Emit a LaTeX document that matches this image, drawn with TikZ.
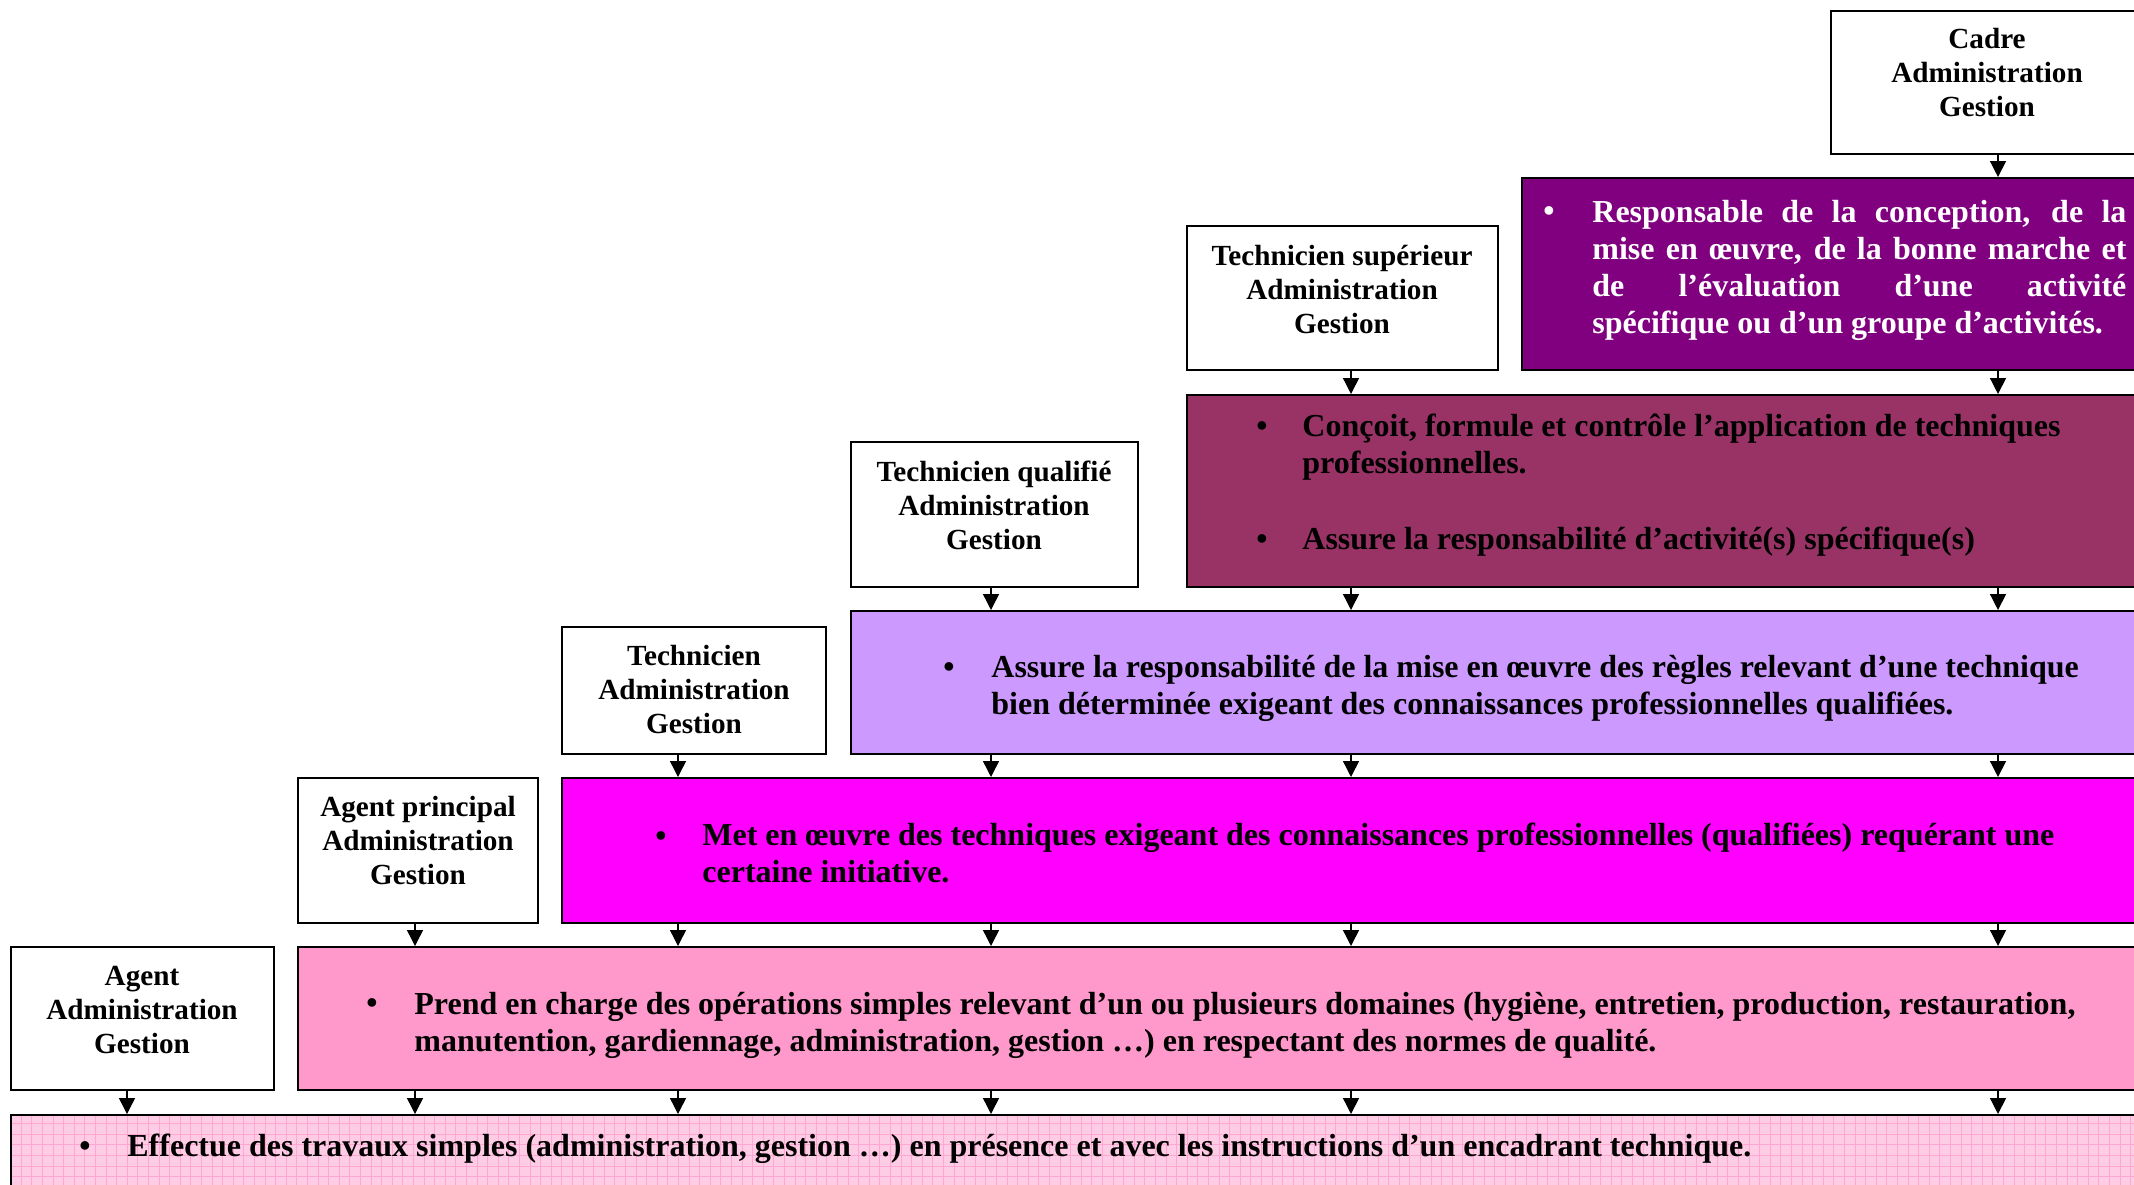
\documentclass[tikz,border=0pt]{standalone}
\usepackage{fontspec}
\setmainfont{Liberation Serif}
\usetikzlibrary{fit,arrows.meta}
\definecolor{cPurple}{HTML}{800080}
\definecolor{cRose}{HTML}{993366}
\definecolor{cLav}{HTML}{CC99FF}
\definecolor{cMag}{HTML}{FF00FF}
\definecolor{cPink}{HTML}{FF99CC}
\definecolor{cBottom}{HTML}{FFCCE6}
\definecolor{cGrid}{HTML}{FFA6D3}
\begin{document}
\begin{tikzpicture}[x=0.5pt,y=-0.5pt,
  box/.style={draw=black, line width=1pt, inner sep=0pt},
  wtext/.style={font=\fontsize{14.6}{17}\selectfont\bfseries, align=center, anchor=base, inner sep=0pt},
  ctext/.style={font=\fontsize{16}{18.5}\selectfont\bfseries, align=left, anchor=base west, inner sep=0pt},
  bul/.style={font=\fontsize{16}{18.5}\selectfont\bfseries, anchor=base, inner sep=0pt},
  arr/.style={line width=0.7pt, -{Triangle[length=8pt,width=8pt]}}]
\useasboundingbox (0,0) rectangle (2134,1184);
\clip (0,0) rectangle (2134,1184);
\fill[white] (0,0) rectangle (2134,1184);
% columns
\coordinate (c1) at (127,0);
\coordinate (c2) at (415,0);
\coordinate (c3) at (678,0);
\coordinate (c4) at (991,0);
\coordinate (c5) at (1351,0);
\coordinate (c6) at (1998,0);
% white boxes
\node[box, fit={(1831,11) (2143,154)}] (cadre) {};
\node[box, fit={(1187,226) (1498,370)}] (techs) {};
\node[box, fit={(851,442) (1138,587)}] (techq) {};
\node[box, fit={(562,627) (826,754)}] (tech) {};
\node[box, fit={(298,778) (538,923)}] (agentp) {};
\node[box, fit={(11,947) (274,1090)}] (agent) {};
% coloured boxes
\node[box, fill=cPurple, fit={(1522,178) (2150,370)}] (purple) {};
\node[box, fill=cRose, fit={(1187,395) (2150,587)}] (rose) {};
\node[box, fill=cLav, fit={(851,611) (2150,754)}] (lav) {};
\node[box, fill=cMag, fit={(562,778) (2150,923)}] (mag) {};
\node[box, fill=cPink, fit={(298,947) (2150,1090)}] (pink) {};
\begin{scope}
\clip (11,1115) rectangle (2150,1200);
\fill[cBottom] (11,1115) rectangle (2150,1200);
\draw[cGrid, line width=0.4pt, step=5.3pt] (0,1100) grid (2150,1200);
\end{scope}
\node[box, fit={(11,1115) (2150,1200)}] (bottom) {};
% white box texts (anchored at the baseline of the last line)
\node[wtext] (cadre-t) at (1987,116) {Cadre\\Administration\\Gestion};
\node[wtext] (techs-t) at (1342,333) {Technicien supérieur\\Administration\\Gestion};
\node[wtext] (techq-t) at (994,549) {Technicien qualifié\\Administration\\Gestion};
\node[wtext] (tech-t) at (694,733) {Technicien\\Administration\\Gestion};
\node[wtext] (agentp-t) at (418,884) {Agent principal\\Administration\\Gestion};
\node[wtext] (agent-t) at (142,1053) {Agent\\Administration\\Gestion};
% coloured box texts
\node[bul, text=white] (purple-b) at (1549,221) {•};
\node[ctext, text=white] (purple-t) at (1592,333) {\makebox[267pt][s]{Responsable de la conception, de la}\\\makebox[267pt][s]{mise en œuvre, de la bonne marche et}\\\makebox[267pt][s]{de l’évaluation d’une activité}\\spécifique ou d’un groupe d’activités.};
\node[bul] (rose-b1) at (1262,436) {•};
\node[ctext] (rose-t1) at (1302,473) {Conçoit, formule et contrôle l’application de techniques\\professionnelles.};
\node[bul] (rose-b2) at (1262,549) {•};
\node[ctext] (rose-t2) at (1302,549) {Assure la responsabilité d’activité(s) spécifique(s)};
\node[bul] (lav-b) at (949,677) {•};
\node[ctext] (lav-t) at (991,714) {Assure la responsabilité de la mise en œuvre des règles relevant d’une technique\\bien déterminée exigeant des connaissances professionnelles qualifiées.};
\node[bul] (mag-b) at (661,846) {•};
\node[ctext] (mag-t) at (702,882) {Met en œuvre des techniques exigeant des connaissances professionnelles (qualifiées) requérant une\\certaine initiative.};
\node[bul] (pink-b) at (372,1013) {•};
\node[ctext] (pink-t) at (414,1051) {Prend en charge des opérations simples relevant d’un ou plusieurs domaines (hygiène, entretien, production, restauration,\\manutention, gardiennage, administration, gestion …) en respectant des normes de qualité.};
\node[bul] (bottom-b) at (85,1156) {•};
\node[ctext] (bottom-t) at (127,1156) {Effectue des travaux simples (administration, gestion …) en présence et avec les instructions d’un encadrant technique.};
% arrows
\draw[arr] (c6 |- cadre.south) -- (c6 |- purple.north);
\draw[arr] (c5 |- techs.south) -- (c5 |- rose.north);
\draw[arr] (c6 |- purple.south) -- (c6 |- rose.north);
\draw[arr] (c4 |- techq.south) -- (c4 |- lav.north);
\foreach \c in {c5,c6} \draw[arr] (\c |- rose.south) -- (\c |- lav.north);
\draw[arr] (c3 |- tech.south) -- (c3 |- mag.north);
\foreach \c in {c4,c5,c6} \draw[arr] (\c |- lav.south) -- (\c |- mag.north);
\draw[arr] (c2 |- agentp.south) -- (c2 |- pink.north);
\foreach \c in {c3,c4,c5,c6} \draw[arr] (\c |- mag.south) -- (\c |- pink.north);
\draw[arr] (c1 |- agent.south) -- (c1 |- bottom.north);
\foreach \c in {c2,c3,c4,c5,c6} \draw[arr] (\c |- pink.south) -- (\c |- bottom.north);
\end{tikzpicture}
\end{document}
